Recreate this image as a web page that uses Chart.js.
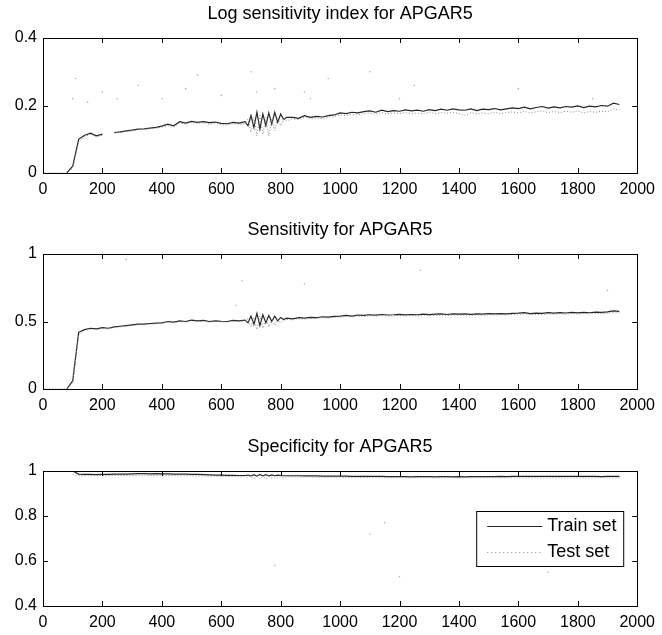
<!DOCTYPE html>
<html lang="en">
<head>
  <meta charset="UTF-8">
  <title>APGAR5 sensitivity and specificity</title>
  <script src="https://cdn.jsdelivr.net/npm/chart.js"></script>
  <style>
    body {
      margin: 0;
      background: #fff;
      width: 662px;
      height: 635px;
      position: relative;
      overflow: hidden;
    }
    canvas {
      position: absolute;
      left: 0;
    }
  </style>
</head>
<body>

  <canvas id="logChart" width="662" height="205" style="top:0px"></canvas>
  <canvas id="sensChart" width="662" height="205" style="top:216px"></canvas>
  <canvas id="specChart" width="662" height="205" style="top:433px"></canvas>

  <script>
    // x positions (training size); denser where the curves are noisy
    const xs = [
      80, 100, 120, 140, 160, 180, 200, 220, 240, 260,
      280, 300, 320, 340, 360, 380, 400, 420, 440, 460,
      480, 500, 520, 540, 560, 580, 600, 620, 640, 660,
      680, 690, 700, 710, 720, 730, 740, 750, 760, 770, 780, 790, 800, 810, 820, 840, 860,
      880, 900, 920, 940, 960, 980, 1000, 1020, 1040, 1060,
      1080, 1100, 1120, 1140, 1160, 1180, 1200, 1220, 1240, 1260,
      1280, 1300, 1320, 1340, 1360, 1380, 1400, 1420, 1440, 1460,
      1480, 1500, 1520, 1540, 1560, 1580, 1600, 1620, 1640, 1660,
      1680, 1700, 1720, 1740, 1760, 1780, 1800, 1820, 1840, 1860,
      1880, 1900, 1920, 1940
    ];
    const xTicks = [0, 200, 400, 600, 800, 1000, 1200, 1400, 1600, 1800, 2000];

    // Log sensitivity index
    const logTrain = [
      0, 0.02, 0.10, 0.112, 0.118, 0.11, 0.115, null, 0.12, 0.122,
      0.125, 0.127, 0.13, 0.131, 0.133, 0.135, 0.139, 0.145, 0.14, 0.152,
      0.148, 0.153, 0.15, 0.152, 0.149, 0.151, 0.147, 0.146, 0.15, 0.148,
      0.152, 0.14, 0.17, 0.135, 0.18, 0.13, 0.175, 0.14, 0.178, 0.145, 0.18, 0.15, 0.175, 0.158, 0.165, 0.165, 0.162,
      0.17, 0.165, 0.168, 0.166, 0.17, 0.172, 0.178, 0.176, 0.18, 0.178,
      0.182, 0.184, 0.18, 0.186, 0.182, 0.185, 0.183, 0.187, 0.184, 0.186,
      0.183, 0.188, 0.185, 0.189, 0.186, 0.19, 0.187, 0.186, 0.19, 0.185,
      0.189, 0.188, 0.191, 0.187, 0.19, 0.193, 0.191, 0.195, 0.19, 0.194,
      0.197, 0.192, 0.196, 0.193, 0.197, 0.195, 0.199, 0.194, 0.198, 0.196,
      0.2, 0.198, 0.207, 0.203
    ];
    const logTest = [
      0, 0.015, 0.09, 0.108, 0.114, 0.107, 0.112, null, 0.118, 0.12,
      0.123, 0.125, 0.128, 0.13, 0.131, 0.133, 0.136, 0.14, 0.137, 0.148,
      0.145, 0.15, 0.147, 0.149, 0.145, 0.148, 0.143, 0.142, 0.146, 0.144,
      0.147, 0.16, 0.12, 0.165, 0.11, 0.17, 0.115, 0.165, 0.11, 0.16, 0.125, 0.165, 0.14, 0.16, 0.155, 0.16, 0.158,
      0.165, 0.16, 0.163, 0.161, 0.165, 0.167, 0.172, 0.17, 0.174, 0.172,
      0.176, 0.178, 0.174, 0.179, 0.175, 0.178, 0.176, 0.179, 0.176, 0.178,
      0.175, 0.18, 0.176, 0.179, 0.177, 0.18, 0.176, 0.17, 0.179, 0.175,
      0.178, 0.176, 0.18, 0.176, 0.179, 0.181, 0.178, 0.183, 0.178, 0.181,
      0.184, 0.179, 0.182, 0.179, 0.183, 0.18, 0.184, 0.178, 0.182, 0.18,
      0.183, 0.181, 0.19, 0.186
    ];
    const logLeadX = [0, 1, 60];
    const logLeadY = [0.02, 0, 0];
    const logDotsX = [100, 110, 150, 200, 250, 320, 400, 480, 520, 600, 700, 720, 780, 880, 900, 960, 1100, 1200, 1250, 1600, 1850];
    const logDotsY = [0.22, 0.28, 0.21, 0.24, 0.22, 0.26, 0.22, 0.25, 0.29, 0.23, 0.3, 0.24, 0.25, 0.24, 0.22, 0.28, 0.3, 0.22, 0.26, 0.25, 0.22];
    const logYTicks = [0, 0.2, 0.4];

    // Sensitivity
    const sensTrain = [
      0, 0.06, 0.42, 0.44, 0.45, 0.445, 0.455, 0.45, 0.46, 0.465,
      0.47, 0.475, 0.48, 0.48, 0.485, 0.488, 0.49, 0.5, 0.495, 0.505,
      0.5, 0.51, 0.505, 0.508, 0.5, 0.505, 0.502, 0.5, 0.508, 0.505,
      0.51, 0.49, 0.54, 0.48, 0.56, 0.47, 0.55, 0.49, 0.545, 0.5, 0.54, 0.505, 0.53, 0.515, 0.525, 0.52, 0.528,
      0.525, 0.53, 0.528, 0.535, 0.532, 0.538, 0.54, 0.545, 0.54, 0.548,
      0.545, 0.55, 0.547, 0.552, 0.548, 0.55, 0.553, 0.549, 0.552, 0.55,
      0.555, 0.551, 0.554, 0.556, 0.552, 0.557, 0.554, 0.556, 0.553, 0.557,
      0.555, 0.558, 0.556, 0.559, 0.557, 0.56, 0.562, 0.565, 0.558, 0.562,
      0.56, 0.565, 0.562, 0.566, 0.563, 0.567, 0.564, 0.568, 0.565, 0.57,
      0.568, 0.572, 0.578, 0.575
    ];
    const sensTest = [
      0, 0.05, 0.4, 0.435, 0.442, 0.44, 0.448, 0.445, 0.455, 0.46,
      0.465, 0.47, 0.475, 0.476, 0.48, 0.483, 0.486, 0.495, 0.49, 0.5,
      0.496, 0.505, 0.5, 0.503, 0.495, 0.5, 0.497, 0.495, 0.503, 0.5,
      0.505, 0.52, 0.46, 0.53, 0.44, 0.54, 0.45, 0.53, 0.46, 0.52, 0.47, 0.515, 0.49, 0.51, 0.515, 0.512, 0.52,
      0.518, 0.522, 0.52, 0.527, 0.525, 0.53, 0.533, 0.537, 0.533, 0.54,
      0.537, 0.542, 0.539, 0.544, 0.54, 0.542, 0.545, 0.541, 0.544, 0.542,
      0.547, 0.543, 0.546, 0.548, 0.544, 0.549, 0.546, 0.548, 0.545, 0.549,
      0.547, 0.55, 0.548, 0.551, 0.549, 0.552, 0.554, 0.556, 0.55, 0.553,
      0.552, 0.556, 0.553, 0.557, 0.554, 0.558, 0.555, 0.558, 0.556, 0.56,
      0.558, 0.562, 0.566, 0.564
    ];
    const sensLeadX = [0, 1, 60];
    const sensLeadY = [0.4, 0, 0];
    const sensDotsX = [280, 420, 490, 560, 650, 670, 880, 1270, 1780, 1900];
    const sensDotsY = [0.96, 1.0, 1.0, 1.0, 0.62, 0.8, 0.78, 0.88, 1.0, 0.73];
    const sensYTicks = [0, 0.5, 1];

    // Specificity
    const specTrain = [
      null, 1.0, 0.986, 0.985, 0.985, 0.984, 0.985, 0.985, 0.986, 0.986,
      0.986, 0.987, 0.988, 0.988, 0.987, 0.988, 0.987, 0.987, 0.986, 0.986,
      0.986, 0.985, 0.985, 0.984, 0.983, 0.982, 0.982, 0.981, 0.981, 0.98,
      0.98, 0.982, 0.978, 0.984, 0.977, 0.985, 0.978, 0.984, 0.978, 0.983, 0.979, 0.982, 0.98, 0.979, 0.979, 0.979, 0.979,
      0.978, 0.978, 0.978, 0.977, 0.977, 0.977, 0.977, 0.977, 0.976, 0.976,
      0.976, 0.976, 0.976, 0.976, 0.975, 0.975, 0.975, 0.975, 0.974, 0.975,
      0.975, 0.975, 0.974, 0.975, 0.975, 0.974, 0.975, 0.974, 0.975, 0.975,
      0.975, 0.975, 0.975, 0.976, 0.975, 0.976, 0.976, 0.976, 0.976, 0.976,
      0.976, 0.976, 0.976, 0.976, 0.976, 0.976, 0.976, 0.976, 0.976, 0.976,
      0.975, 0.976, 0.976, 0.976
    ];
    const specTest = [
      null, 0.985, 0.98, 0.98, 0.98, 0.979, 0.98, 0.98, 0.98, 0.98,
      0.98, 0.98, 0.98, 0.981, 0.98, 0.98, 0.98, 0.98, 0.98, 0.979,
      0.979, 0.979, 0.978, 0.978, 0.977, 0.977, 0.976, 0.976, 0.975, 0.975,
      0.975, 0.972, 0.978, 0.968, 0.977, 0.966, 0.976, 0.965, 0.975, 0.968, 0.974, 0.97, 0.974, 0.972, 0.974, 0.974, 0.973,
      0.973, 0.973, 0.972, 0.972, 0.972, 0.972, 0.972, 0.971, 0.971, 0.971,
      0.971, 0.971, 0.971, 0.97, 0.97, 0.97, 0.97, 0.97, 0.97, 0.97,
      0.97, 0.97, 0.97, 0.969, 0.97, 0.97, 0.969, 0.97, 0.97, 0.97,
      0.97, 0.97, 0.97, 0.97, 0.97, 0.97, 0.97, 0.97, 0.97, 0.97,
      0.97, 0.97, 0.97, 0.97, 0.97, 0.97, 0.97, 0.97, 0.97, 0.97,
      0.97, 0.97, 0.97, 0.97
    ];
    const specLeadX = [0, 0];
    const specLeadY = [0.49, 1.0];
    const specDotsX = [780, 1100, 1150, 1200, 1700];
    const specDotsY = [0.58, 0.72, 0.77, 0.53, 0.55];
    const specYTicks = [0.4, 0.6, 0.8, 1];

    const legendLabels = ['Train set', 'Test set'];

    const FONT = '"Liberation Sans", Arial, Helvetica, sans-serif';
    const TRAIN_COLOR = '#262626';
    const TEST_COLOR = '#8c8c8c';

    function pts(xv, yv) {
      return xv.map((x, i) => ({ x: x, y: yv[i] }));
    }

    function fmt(v) {
      return String(Number(v.toFixed(2)));
    }

    // MATLAB style box with inward ticks, title and optional legend
    const framePlugin = {
      id: 'frame',
      afterDraw(chart, args, opts) {
        const ctx = chart.ctx;
        const a = chart.chartArea;
        const xs_ = chart.scales.x;
        const ys_ = chart.scales.y;
        ctx.save();
        ctx.strokeStyle = '#000';
        ctx.lineWidth = 1;
        ctx.strokeRect(Math.round(a.left) + 0.5, Math.round(a.top) + 0.5,
          Math.round(a.right - a.left), Math.round(a.bottom - a.top));
        ctx.beginPath();
        xs_.ticks.forEach(t => {
          const px = Math.round(xs_.getPixelForValue(t.value)) + 0.5;
          ctx.moveTo(px, a.bottom); ctx.lineTo(px, a.bottom - 5);
          ctx.moveTo(px, a.top); ctx.lineTo(px, a.top + 5);
        });
        ys_.ticks.forEach(t => {
          const py = Math.round(ys_.getPixelForValue(t.value)) + 0.5;
          ctx.moveTo(a.left, py); ctx.lineTo(a.left + 5, py);
          ctx.moveTo(a.right, py); ctx.lineTo(a.right - 5, py);
        });
        ctx.stroke();

        ctx.fillStyle = '#000';
        ctx.font = '18px ' + FONT;
        ctx.textAlign = 'center';
        ctx.textBaseline = 'middle';
        ctx.fillText(opts.title, (a.left + a.right) / 2, a.top - 24);

        if (opts.legend) {
          const lx = a.right - 161, ly = a.top + 40, lw = 147, lh = 55;
          ctx.fillStyle = '#fff';
          ctx.fillRect(lx, ly, lw, lh);
          ctx.strokeStyle = '#000';
          ctx.strokeRect(lx + 0.5, ly + 0.5, lw, lh);
          const rows = [
            { label: legendLabels[0], color: TRAIN_COLOR, dash: [] },
            { label: legendLabels[1], color: TEST_COLOR, dash: [1, 3] }
          ];
          rows.forEach((r, i) => {
            const ry = ly + 15 + i * 26;
            ctx.beginPath();
            ctx.setLineDash(r.dash);
            ctx.strokeStyle = r.color;
            ctx.moveTo(lx + 11, ry + 0.5);
            ctx.lineTo(lx + 66, ry + 0.5);
            ctx.stroke();
            ctx.setLineDash([]);
            ctx.fillStyle = '#000';
            ctx.textAlign = 'left';
            ctx.fillText(r.label, lx + 71, ry);
          });
        }
        ctx.restore();
      }
    };

    function makePanel(id, title, yMin, yMax, yTicks, train, test, leadX, leadY, dotsX, dotsY, legend) {
      const ctx = document.getElementById(id).getContext('2d');
      return new Chart(ctx, {
        type: 'line',
        data: {
          datasets: [
            {
              label: legendLabels[1],
              data: pts(leadX, leadY).concat(pts(xs, test)),
              borderColor: TEST_COLOR,
              borderWidth: 1,
              borderDash: [1, 2],
              pointRadius: 0,
              tension: 0,
              spanGaps: false
            },
            {
              label: legendLabels[0],
              data: pts(xs, train),
              borderColor: TRAIN_COLOR,
              borderWidth: 1.2,
              pointRadius: 0,
              tension: 0,
              spanGaps: false
            },
            {
              label: 'test outliers',
              data: pts(dotsX, dotsY),
              showLine: false,
              pointRadius: 0.8,
              pointBorderWidth: 0,
              pointBackgroundColor: '#b0b0b0'
            }
          ]
        },
        options: {
          responsive: false,
          animation: false,
          devicePixelRatio: 1,
          layout: { padding: { top: 38, left: 0, right: 22, bottom: 0 } },
          plugins: {
            legend: { display: false },
            tooltip: { enabled: false },
            frame: { title: title, legend: legend }
          },
          scales: {
            x: {
              type: 'linear',
              min: 0,
              max: 2000,
              afterBuildTicks: s => { s.ticks = xTicks.map(v => ({ value: v })); },
              afterFit: s => { s.height = 32; },
              grid: { display: false, drawTicks: false },
              border: { display: false },
              ticks: {
                padding: 7,
                color: '#000',
                font: { family: FONT, size: 16 },
                maxRotation: 0,
                callback: v => String(v)
              }
            },
            y: {
              type: 'linear',
              min: yMin,
              max: yMax,
              afterBuildTicks: s => { s.ticks = yTicks.map(v => ({ value: v })); },
              afterFit: s => { s.width = 43; },
              grid: { display: false, drawTicks: false },
              border: { display: false },
              ticks: {
                padding: 6,
                color: '#000',
                font: { family: FONT, size: 16 },
                callback: v => fmt(v)
              }
            }
          }
        },
        plugins: [framePlugin]
      });
    }

    makePanel('logChart', 'Log sensitivity index for APGAR5', 0, 0.4, logYTicks,
      logTrain, logTest, logLeadX, logLeadY, logDotsX, logDotsY, false);
    makePanel('sensChart', 'Sensitivity for APGAR5', 0, 1, sensYTicks,
      sensTrain, sensTest, sensLeadX, sensLeadY, sensDotsX, sensDotsY, false);
    makePanel('specChart', 'Specificity for APGAR5', 0.4, 1, specYTicks,
      specTrain, specTest, specLeadX, specLeadY, specDotsX, specDotsY, true);
  </script>

</body>
</html>
